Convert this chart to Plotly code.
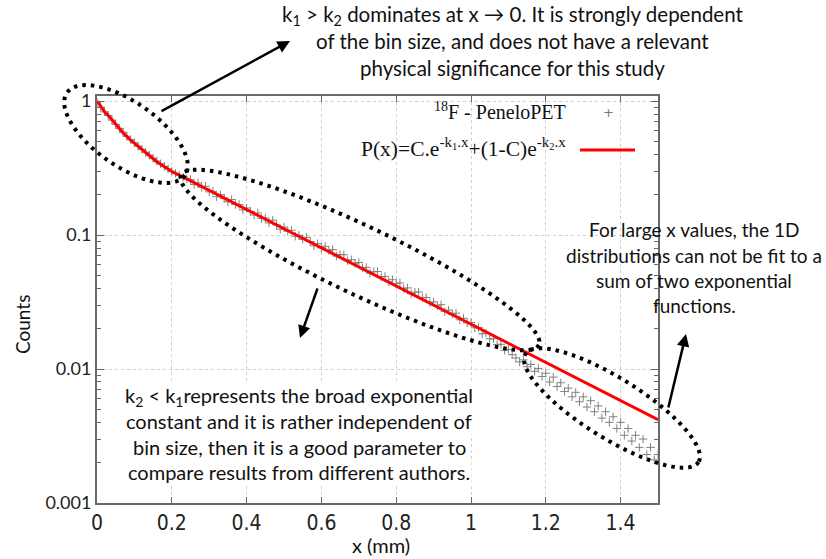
import numpy as np
import plotly.graph_objects as go

# ---------------- data ----------------
x_data = [round(i * 0.01, 2) for i in range(151)]
y_data = [
    0.98, 0.90, 0.83, 0.78, 0.72, 0.67, 0.625, 0.585, 0.545, 0.515,
    0.487, 0.46, 0.436, 0.414, 0.394, 0.374, 0.356, 0.34, 0.325, 0.312,
    0.299, 0.289, 0.279, 0.27, 0.262, 0.259, 0.238, 0.245, 0.227, 0.231,
    0.210, 0.212, 0.193, 0.200, 0.188, 0.177, 0.184, 0.169, 0.169, 0.154,
    0.159, 0.150, 0.141, 0.146, 0.133, 0.134, 0.123, 0.129, 0.119, 0.1105,
    0.1147, 0.1067, 0.1085, 0.0980, 0.0997, 0.0927, 0.0961, 0.0895, 0.0831, 0.0862,
    0.0802, 0.0823, 0.0766, 0.0778, 0.0697, 0.0715, 0.0712, 0.0644, 0.0654, 0.0615,
    0.0624, 0.0570, 0.0573, 0.0519, 0.0532, 0.0534, 0.0488, 0.0491, 0.0448, 0.0464,
    0.0433, 0.0439, 0.0398, 0.0403, 0.0365, 0.0374, 0.0376, 0.0341, 0.0342, 0.0313,
    0.0317, 0.0296, 0.0302, 0.0268, 0.0275, 0.0257, 0.0261, 0.0233, 0.0239, 0.0221,
    0.0222, 0.0203, 0.0204, 0.0183, 0.0185, 0.0168, 0.0168, 0.0152, 0.0153, 0.0138,
    0.0140, 0.0128, 0.0121, 0.0113, 0.0117, 0.0104, 0.0108, 0.0096, 0.0101, 0.0088,
    0.0093, 0.0080, 0.0087, 0.0074, 0.0079, 0.0068, 0.0072, 0.0062, 0.0067, 0.0057,
    0.0062, 0.0052, 0.0058, 0.0048, 0.0053, 0.0043, 0.0048, 0.0040, 0.0044, 0.0036,
    0.0040, 0.0032, 0.0036, 0.0029, 0.0032, 0.0026, 0.0030, 0.0023, 0.0026, 0.0021,
    0.0023,
]
x_fit = [0, 0.01, 0.02, 0.035, 0.05, 0.07, 0.09, 0.12, 0.16, 0.2, 0.24, 0.5, 0.75, 1.0, 1.25, 1.5]
y_fit = [1.0, 0.91, 0.835, 0.752, 0.67, 0.578, 0.51, 0.434, 0.352, 0.298, 0.262,
         0.1114, 0.0491, 0.0216, 0.00949, 0.00418]

x_ticks = [0, 0.2, 0.4, 0.6, 0.8, 1.0, 1.2, 1.4]
x_ticktext = ["0", "0.2", "0.4", "0.6", "0.8", "1", "1.2", "1.4"]
y_ticks = [0.001, 0.01, 0.1, 1]
y_ticktext = ["0.001", "0.01", "0.1", "1"]
y_minor = [m * 10.0 ** e for e in (-3, -2, -1) for m in range(2, 10)]

series_name = "<sup>18</sup>F - PeneloPET"
fit_name = "P(x)=C.e<sup>-k<sub>1</sub>.x</sup>+(1-C)e<sup>-k<sub>2</sub>.x</sup>"

note_top = ["k<sub>1</sub> > k<sub>2</sub> dominates at x → 0. It is strongly dependent",
            "of the bin size, and does not have a relevant",
            "physical significance for this study"]
note_right = ["For large x values, the 1D", "distributions can not be fit to a",
              "sum of two exponential", "functions."]
note_bottom = ["k<sub>2</sub> < k<sub>1</sub>represents the broad exponential",
               "constant and it is rather independent of",
               "bin size, then it is a good parameter to",
               "compare results from different authors."]

# ---------------- layout geometry (pixels) ----------------
W, H = 826, 559
L, R, T, B = 97, 168, 96, 56
PW, PH = W - L - R, H - T - B


def px(x):
    return (x - L) / PW


def py(y):
    return (H - B - y) / PH


def ellipse_path(cx, cy, a, b, ang, n=120):
    t = np.linspace(0, 2 * np.pi, n)
    phi = np.radians(ang)
    xs = cx + a * np.cos(t) * np.cos(phi) - b * np.sin(t) * np.sin(phi)
    ys = cy + a * np.cos(t) * np.sin(phi) + b * np.sin(t) * np.cos(phi)
    pts = [f"{px(xx):.5f},{py(yy):.5f}" for xx, yy in zip(xs, ys)]
    return "M " + " L ".join(pts) + " Z"


fig = go.Figure()
fig.add_trace(go.Scatter(
    x=x_data, y=y_data, mode="markers", name=series_name,
    marker=dict(symbol="cross-thin", size=6, line=dict(width=1, color="#808080")),
    showlegend=False,
))
fig.add_trace(go.Scatter(
    x=x_fit, y=y_fit, mode="lines", name=fit_name,
    line=dict(color="#ff0000", width=3),
    showlegend=False,
))

tickfont = dict(family="Liberation Sans Narrow, DejaVu Sans Condensed, Lato", size=21, color="#222")
fig.update_xaxes(
    range=[0, 1.5], tickvals=x_ticks, ticktext=x_ticktext,
    ticks="inside", ticklen=6, tickcolor="#666", mirror="allticks",
    showline=True, linecolor="#6a6a6a", linewidth=2,
    showgrid=True, gridcolor="#cfcfcf", griddash="dot", gridwidth=1,
    zeroline=False, tickfont=tickfont,
)
fig.update_yaxes(
    type="log", range=[-3, np.log10(1.09)], tickvals=y_ticks, ticktext=y_ticktext,
    ticks="inside", ticklen=7, tickcolor="#666", mirror="allticks",
    showline=True, linecolor="#6a6a6a", linewidth=2,
    showgrid=True, gridcolor="#cfcfcf", griddash="dot", gridwidth=1,
    zeroline=False, tickfont=dict(family="Lato", size=18, color="#222"),
    ticklabelstandoff=0,
    minor=dict(tickvals=y_minor, ticks="inside", ticklen=4, tickcolor="#666", showgrid=False),
)

dash = "3.5px,5px"
shapes = [
    dict(type="path", xref="paper", yref="paper", path=ellipse_path(126, 134, 72, 32, 35),
         line=dict(color="black", width=4, dash=dash)),
    dict(type="path", xref="paper", yref="paper", path=ellipse_path(360, 260, 198, 34, 25.4),
         line=dict(color="black", width=4, dash=dash)),
    dict(type="path", xref="paper", yref="paper", path=ellipse_path(612, 408, 102, 30, 32),
         line=dict(color="black", width=4, dash=dash)),
    dict(type="line", xref="paper", yref="paper", x0=px(580), x1=px(635), y0=py(150), y1=py(150),
         line=dict(color="#ff0000", width=3)),
]


def txt(x, y, text, font, xa="center", ya="middle", **kw):
    return dict(x=px(x), y=py(y), xref="paper", yref="paper", showarrow=False,
                xanchor=xa, yanchor=ya, text=text, font=font, **kw)


def arrow(hx, hy, tx, ty):
    return dict(x=px(hx), y=py(hy), xref="paper", yref="paper", ax=tx - hx, ay=ty - hy,
                showarrow=True, arrowhead=2, arrowsize=1, arrowwidth=2.5, arrowcolor="black", text="")


annotations = []
for i, line in enumerate(note_top):
    annotations.append(txt(512, 15 + 26.5 * i, line, dict(family="Lato", size=20.5, color="#111")))
for i, line in enumerate(note_right):
    annotations.append(txt(694, 230 + 25.3 * i, line, dict(family="Lato", size=19, color="#111")))
for i, line in enumerate(note_bottom):
    annotations.append(txt(299, 396 + 25.3 * i, line, dict(family="Lato", size=20, color="#111"),
                           bgcolor="white"))

annotations += [
    arrow(290, 41, 160, 112),
    arrow(300, 338, 318, 287),
    arrow(686, 334, 668, 409),
    # legend
    txt(568, 111, series_name, dict(family="Liberation Serif", size=20, color="#111"), xa="right"),
    txt(568, 147, fit_name, dict(family="Liberation Serif", size=21.5, color="#111"), xa="right"),
    txt(608, 112, "+", dict(family="DejaVu Sans", size=13, color="#777")),
    # axis titles
    txt(381, 545, "x (mm)", dict(family="Lato", size=20, color="#111")),
    txt(22, 325, "Counts", dict(family="Lato", size=19, color="#111"), textangle=-90),
]

fig.update_layout(
    width=W, height=H, margin=dict(l=L, r=R, t=T, b=B),
    paper_bgcolor="white", plot_bgcolor="white",
    shapes=shapes, annotations=annotations, showlegend=False,
)

fig.write_html("out.html")
